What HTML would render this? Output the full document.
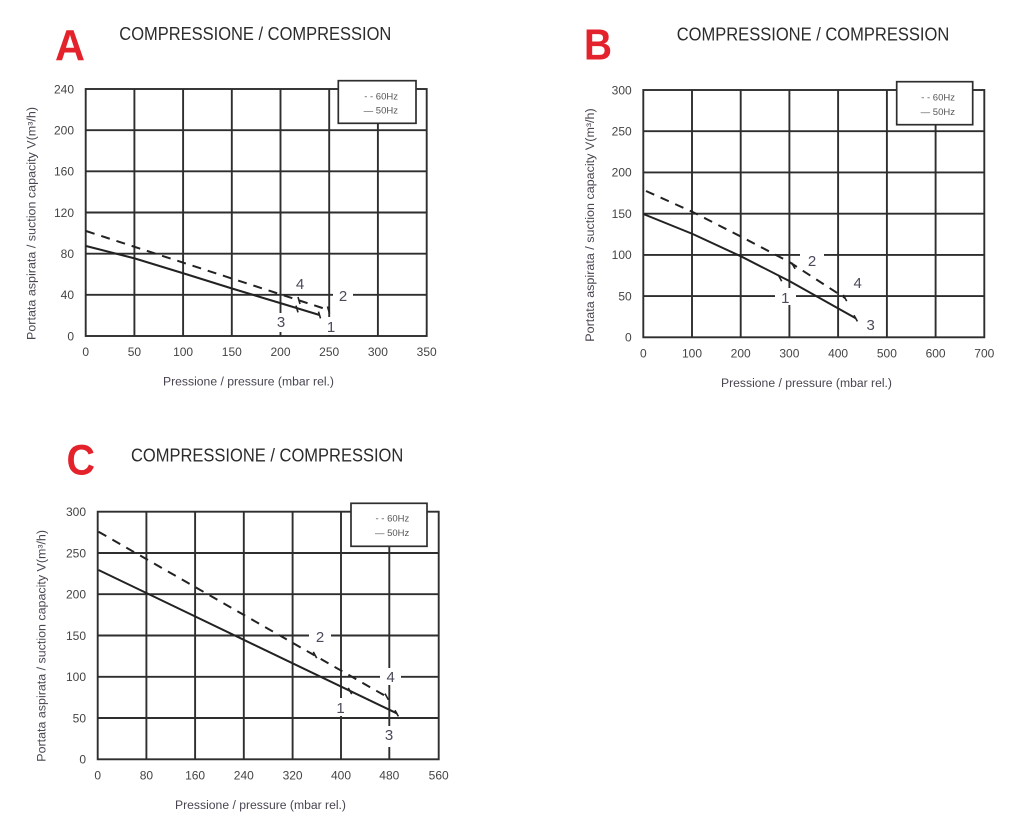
<!DOCTYPE html>
<html><head><meta charset="utf-8"><style>
html,body{margin:0;padding:0;background:#fff;}
svg{display:block;}
text{font-family:"Liberation Sans",sans-serif;}
.t{font-size:12px;fill:#444;}
.ttl{font-size:18px;fill:#2b2b2b;}
.red{font-size:44px;font-weight:bold;fill:#e3222b;}
.ax{font-size:11.5px;fill:#4a4450;}
.lg{font-size:9.5px;fill:#555;}
.n{font-size:15px;fill:#4a4a5a;text-anchor:middle;}
.g{stroke:#2e2e2e;stroke-width:1.9;fill:none;}
.c{stroke:#222;stroke-width:2;fill:none;}
.d{stroke:#222;stroke-width:2;fill:none;stroke-dasharray:9 7;}
.k{stroke:#222;stroke-width:1.6;}
</style></head><body>
<svg width="1024" height="828" viewBox="0 0 1024 828" xmlns="http://www.w3.org/2000/svg">
<rect width="1024" height="828" fill="#fff"/>

<!-- ================= CHART A ================= -->
<text class="red" x="55" y="60" textLength="30" lengthAdjust="spacingAndGlyphs">A</text>
<text class="ttl" x="119.3" y="40" textLength="272" lengthAdjust="spacingAndGlyphs">COMPRESSIONE /  COMPRESSION</text>
<g class="g">
<rect x="85.7" y="89" width="341" height="247"/>
<line x1="134.4" y1="89" x2="134.4" y2="336"/><line x1="183.1" y1="89" x2="183.1" y2="336"/>
<line x1="231.8" y1="89" x2="231.8" y2="336"/><line x1="280.5" y1="89" x2="280.5" y2="336"/>
<line x1="329.2" y1="89" x2="329.2" y2="336"/><line x1="377.9" y1="89" x2="377.9" y2="336"/>
<line x1="85.7" y1="130.2" x2="426.7" y2="130.2"/><line x1="85.7" y1="171.3" x2="426.7" y2="171.3"/>
<line x1="85.7" y1="212.5" x2="426.7" y2="212.5"/><line x1="85.7" y1="253.7" x2="426.7" y2="253.7"/>
<line x1="85.7" y1="294.8" x2="426.7" y2="294.8"/>
</g>
<rect x="333" y="288" width="20" height="15" fill="#fff"/>
<rect x="275" y="313" width="12" height="19" fill="#fff"/>
<rect x="325" y="317" width="12" height="18" fill="#fff"/>
<rect x="338.3" y="80.7" width="77.7" height="42.6" fill="#fff" stroke="#2e2e2e" stroke-width="1.7"/>
<text class="lg" x="398" y="99.3" text-anchor="end">- - 60Hz</text>
<text class="lg" x="398" y="113.3" text-anchor="end">— 50Hz</text>
<polyline class="d" points="86,231 328.5,310"/>
<polyline class="c" points="86,246 135,258.5 184,273.5 232,288.5 280,303 319.5,315"/>
<line class="k" x1="296" y1="305.6" x2="298" y2="312.4"/>
<line class="k" x1="318.5" y1="311.6" x2="320.5" y2="318.4"/>
<line class="k" x1="298" y1="297" x2="300" y2="304"/>
<line class="k" x1="327.5" y1="306.5" x2="329.5" y2="313.5"/>
<text class="n" x="300" y="289">4</text>
<text class="n" x="343" y="301">2</text>
<text class="n" x="281" y="327">3</text>
<text class="n" x="331" y="332">1</text>
<g class="t" text-anchor="end">
<text x="74" y="340.3">0</text><text x="74" y="299.1">40</text><text x="74" y="258">80</text>
<text x="74" y="216.8">120</text><text x="74" y="175.6">160</text><text x="74" y="134.5">200</text><text x="74" y="93.3">240</text>
</g>
<g class="t" text-anchor="middle">
<text x="85.7" y="356">0</text><text x="134.4" y="356">50</text><text x="183.1" y="356">100</text>
<text x="231.8" y="356">150</text><text x="280.5" y="356">200</text><text x="329.2" y="356">250</text>
<text x="377.9" y="356">300</text><text x="426.7" y="356">350</text>
</g>
<text class="ax" x="163" y="385.5" textLength="171" lengthAdjust="spacingAndGlyphs">Pressione / pressure (mbar rel.)</text>
<text class="ax" transform="translate(35.7,340) rotate(-90)" textLength="233" lengthAdjust="spacingAndGlyphs">Portata aspirata / suction capacity V(m³/h)</text>

<!-- ================= CHART B ================= -->
<text class="red" x="584" y="59.3" textLength="28" lengthAdjust="spacingAndGlyphs">B</text>
<text class="ttl" x="676.7" y="40.7" textLength="272.6" lengthAdjust="spacingAndGlyphs">COMPRESSIONE /  COMPRESSION</text>
<g class="g">
<rect x="643.3" y="90" width="341" height="247.3"/>
<line x1="692" y1="90" x2="692" y2="337.3"/><line x1="740.7" y1="90" x2="740.7" y2="337.3"/>
<line x1="789.4" y1="90" x2="789.4" y2="337.3"/><line x1="838.1" y1="90" x2="838.1" y2="337.3"/>
<line x1="886.9" y1="90" x2="886.9" y2="337.3"/><line x1="935.6" y1="90" x2="935.6" y2="337.3"/>
<line x1="643.3" y1="131.2" x2="984.3" y2="131.2"/><line x1="643.3" y1="172.4" x2="984.3" y2="172.4"/>
<line x1="643.3" y1="213.7" x2="984.3" y2="213.7"/><line x1="643.3" y1="254.9" x2="984.3" y2="254.9"/>
<line x1="643.3" y1="296.1" x2="984.3" y2="296.1"/>
</g>
<rect x="800" y="248" width="24" height="20" fill="#fff"/>
<rect x="775" y="288" width="21" height="17" fill="#fff"/>
<rect x="896.7" y="81.7" width="76" height="43" fill="#fff" stroke="#2e2e2e" stroke-width="1.7"/>
<text class="lg" x="955" y="100.6" text-anchor="end">- - 60Hz</text>
<text class="lg" x="955" y="115" text-anchor="end">— 50Hz</text>
<polyline class="d" points="646,191 692.7,212 741.7,237 789.3,262 845,298"/>
<polyline class="c" points="643.3,214 692.7,234 741.7,256.7 789.3,281 855.7,318.3"/>
<line class="k" x1="791.5" y1="262.6" x2="795.1" y2="268.8"/>
<line class="k" x1="843.3" y1="294.9" x2="846.7" y2="301.1"/>
<line class="k" x1="778.3" y1="275" x2="781.7" y2="281.2"/>
<line class="k" x1="854" y1="315.2" x2="857.4" y2="321.4"/>
<text class="n" x="812" y="266">2</text>
<text class="n" x="785.3" y="303">1</text>
<text class="n" x="857.7" y="288">4</text>
<text class="n" x="870.7" y="330">3</text>
<g class="t" text-anchor="end">
<text x="631.7" y="341.6">0</text><text x="631.7" y="300.4">50</text><text x="631.7" y="259.2">100</text>
<text x="631.7" y="218">150</text><text x="631.7" y="176.7">200</text><text x="631.7" y="135.5">250</text><text x="631.7" y="94.3">300</text>
</g>
<g class="t" text-anchor="middle">
<text x="643.3" y="357.6">0</text><text x="692" y="357.6">100</text><text x="740.7" y="357.6">200</text>
<text x="789.4" y="357.6">300</text><text x="838.1" y="357.6">400</text><text x="886.9" y="357.6">500</text>
<text x="935.6" y="357.6">600</text><text x="984.3" y="357.6">700</text>
</g>
<text class="ax" x="721" y="387" textLength="171" lengthAdjust="spacingAndGlyphs">Pressione / pressure (mbar rel.)</text>
<text class="ax" transform="translate(594,341.7) rotate(-90)" textLength="233.4" lengthAdjust="spacingAndGlyphs">Portata aspirata / suction capacity V(m³/h)</text>

<!-- ================= CHART C ================= -->
<text class="red" x="66.5" y="474.5" textLength="28.5" lengthAdjust="spacingAndGlyphs" style="font-size:43px">C</text>
<text class="ttl" x="131" y="461.7" textLength="272.3" lengthAdjust="spacingAndGlyphs">COMPRESSIONE /  COMPRESSION</text>
<g class="g">
<rect x="97.7" y="511.7" width="341" height="247.6"/>
<line x1="146.4" y1="511.7" x2="146.4" y2="759.3"/><line x1="195.1" y1="511.7" x2="195.1" y2="759.3"/>
<line x1="243.8" y1="511.7" x2="243.8" y2="759.3"/><line x1="292.6" y1="511.7" x2="292.6" y2="759.3"/>
<line x1="341" y1="511.7" x2="341" y2="759.3"/><line x1="389.3" y1="511.7" x2="389.3" y2="759.3"/>
<line x1="97.7" y1="553" x2="438.7" y2="553"/><line x1="97.7" y1="594.2" x2="438.7" y2="594.2"/>
<line x1="97.7" y1="635.5" x2="438.7" y2="635.5"/><line x1="97.7" y1="676.8" x2="438.7" y2="676.8"/>
<line x1="97.7" y1="718" x2="438.7" y2="718"/>
</g>
<rect x="309" y="628" width="22" height="16" fill="#fff"/>
<rect x="380" y="668" width="21" height="17" fill="#fff"/>
<rect x="334" y="698" width="13" height="18" fill="#fff"/>
<rect x="382" y="726" width="14" height="21" fill="#fff"/>
<rect x="351" y="503.3" width="76" height="43" fill="#fff" stroke="#2e2e2e" stroke-width="1.7"/>
<text class="lg" x="409.3" y="521.6" text-anchor="end">- - 60Hz</text>
<text class="lg" x="409.3" y="536" text-anchor="end">— 50Hz</text>
<polyline class="d" points="98.5,531.7 386.7,696.7"/>
<polyline class="c" points="98.5,570 396.7,713.3"/>
<line class="k" x1="313.3" y1="651.9" x2="316.7" y2="658.1"/>
<line class="k" x1="385" y1="693.6" x2="388.4" y2="699.8"/>
<line class="k" x1="348.3" y1="687.9" x2="351.7" y2="694.1"/>
<line class="k" x1="395" y1="710.2" x2="398.4" y2="716.4"/>
<text class="n" x="320" y="642">2</text>
<text class="n" x="390.7" y="682">4</text>
<text class="n" x="340.5" y="713">1</text>
<text class="n" x="389" y="740">3</text>
<g class="t" text-anchor="end">
<text x="86" y="763.6">0</text><text x="86" y="722.3">50</text><text x="86" y="681.1">100</text>
<text x="86" y="639.8">150</text><text x="86" y="598.5">200</text><text x="86" y="557.3">250</text><text x="86" y="516">300</text>
</g>
<g class="t" text-anchor="middle">
<text x="97.7" y="779.3">0</text><text x="146.4" y="779.3">80</text><text x="195.1" y="779.3">160</text>
<text x="243.8" y="779.3">240</text><text x="292.6" y="779.3">320</text><text x="341" y="779.3">400</text>
<text x="389.3" y="779.3">480</text><text x="438.7" y="779.3">560</text>
</g>
<text class="ax" x="175" y="808.8" textLength="171" lengthAdjust="spacingAndGlyphs">Pressione / pressure (mbar rel.)</text>
<text class="ax" transform="translate(45.7,761.7) rotate(-90)" textLength="231.7" lengthAdjust="spacingAndGlyphs">Portata aspirata / suction capacity V(m³/h)</text>
</svg>
</body></html>
